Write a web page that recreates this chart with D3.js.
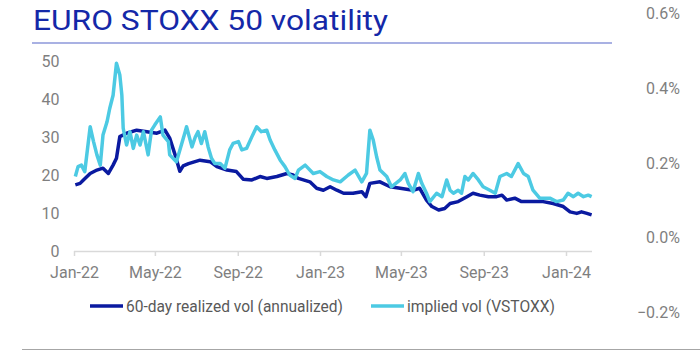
<!DOCTYPE html>
<html>
<head>
<meta charset="utf-8">
<script src="https://cdn.jsdelivr.net/npm/d3@7"></script>
<style>
  body { margin: 0; background: #fff; }
  svg { display: block; font-family: Roboto, "Noto Sans", sans-serif; }
</style>
</head>
<body>
<div id="chart"></div>
<script>
// series values, [date, vol %]
const realized = [
  ['2022-01-03', 17.4], ['2022-01-10', 17.8], ['2022-01-15', 18.7], ['2022-01-25', 20.4],
  ['2022-02-04', 21.3], ['2022-02-13', 21.8], ['2022-02-21', 20.4], ['2022-02-28', 22.6],
  ['2022-03-05', 24.4], ['2022-03-10', 30.1], ['2022-03-20', 31.0], ['2022-04-04', 31.8],
  ['2022-04-19', 31.4], ['2022-05-04', 31.0], ['2022-05-16', 31.8], ['2022-05-23', 29.7],
  ['2022-05-31', 25.3], ['2022-06-07', 21.0], ['2022-06-12', 22.4], ['2022-06-20', 23.0],
  ['2022-07-07', 23.9], ['2022-07-22', 23.5], ['2022-08-01', 22.2], ['2022-08-16', 21.3],
  ['2022-08-30', 20.9], ['2022-09-09', 18.9], ['2022-09-22', 18.7], ['2022-10-04', 19.6],
  ['2022-10-14', 19.1], ['2022-10-29', 19.6], ['2022-11-13', 20.4], ['2022-11-22', 20.0],
  ['2022-11-30', 19.1], ['2022-12-17', 18.2], ['2022-12-27', 16.5], ['2023-01-06', 16.0],
  ['2023-01-16', 16.9], ['2023-01-26', 16.0], ['2023-02-05', 15.2], ['2023-02-19', 15.2],
  ['2023-03-04', 15.6], ['2023-03-10', 14.3], ['2023-03-16', 17.8], ['2023-03-31', 18.2],
  ['2023-04-15', 16.9], ['2023-04-30', 16.5], ['2023-05-19', 16.0], ['2023-05-29', 16.5],
  ['2023-06-08', 13.4], ['2023-06-16', 11.7], ['2023-06-26', 10.8], ['2023-07-05', 11.2],
  ['2023-07-13', 12.5], ['2023-07-25', 13.0], ['2023-08-07', 14.3], ['2023-08-16', 15.2],
  ['2023-08-26', 14.7], ['2023-09-08', 14.3], ['2023-09-20', 14.3], ['2023-09-28', 14.7],
  ['2023-10-05', 13.4], ['2023-10-17', 13.9], ['2023-10-27', 13.0], ['2023-11-13', 13.0],
  ['2023-11-28', 13.0], ['2023-12-13', 12.5], ['2023-12-28', 11.7], ['2024-01-07', 10.3],
  ['2024-01-17', 9.9], ['2024-01-24', 10.3], ['2024-02-01', 9.9], ['2024-02-08', 9.5]
];

const implied = [
  ['2022-01-03', 19.6], ['2022-01-07', 22.2], ['2022-01-12', 22.6], ['2022-01-17', 20.9],
  ['2022-01-25', 32.7], ['2022-01-30', 28.8], ['2022-02-04', 25.3], ['2022-02-09', 22.6],
  ['2022-02-13', 30.5], ['2022-02-19', 34.0], ['2022-02-23', 37.5], ['2022-02-28', 41.0],
  ['2022-03-05', 49.4], ['2022-03-10', 46.3], ['2022-03-13', 41.0], ['2022-03-15', 32.3],
  ['2022-03-20', 27.9], ['2022-03-25', 31.4], ['2022-03-30', 27.0], ['2022-04-04', 30.5],
  ['2022-04-09', 27.9], ['2022-04-14', 31.4], ['2022-04-21', 25.3], ['2022-04-26', 31.8],
  ['2022-05-01', 33.2], ['2022-05-09', 35.3], ['2022-05-13', 30.5], ['2022-05-21', 28.8],
  ['2022-05-23', 25.3], ['2022-06-02', 23.5], ['2022-06-15', 31.4], ['2022-06-17', 32.7],
  ['2022-06-25', 27.4], ['2022-06-30', 30.0], ['2022-07-04', 31.4], ['2022-07-09', 28.3],
  ['2022-07-14', 31.4], ['2022-07-19', 27.4], ['2022-07-24', 24.4], ['2022-07-29', 23.0],
  ['2022-08-06', 23.0], ['2022-08-13', 21.8], ['2022-08-20', 26.6], ['2022-08-25', 28.3],
  ['2022-09-02', 28.8], ['2022-09-07', 26.6], ['2022-09-14', 27.0], ['2022-09-22', 30.1],
  ['2022-09-29', 32.7], ['2022-10-06', 31.4], ['2022-10-14', 31.8], ['2022-10-19', 29.2],
  ['2022-10-26', 26.6], ['2022-11-03', 23.9], ['2022-11-10', 22.2], ['2022-11-17', 20.0],
  ['2022-11-25', 19.1], ['2022-11-30', 21.3], ['2022-12-10', 22.6], ['2022-12-22', 20.4],
  ['2023-01-01', 20.9], ['2023-01-11', 19.6], ['2023-01-21', 18.7], ['2023-01-31', 18.2],
  ['2023-02-12', 20.0], ['2023-02-22', 21.3], ['2023-03-04', 18.2], ['2023-03-11', 20.4],
  ['2023-03-16', 31.8], ['2023-03-21', 29.2], ['2023-03-26', 24.8], ['2023-03-31', 21.3],
  ['2023-04-10', 19.6], ['2023-04-17', 16.9], ['2023-04-30', 18.7], ['2023-05-07', 20.4],
  ['2023-05-12', 17.8], ['2023-05-19', 15.6], ['2023-05-27', 20.4], ['2023-06-01', 17.8],
  ['2023-06-08', 15.2], ['2023-06-13', 13.0], ['2023-06-23', 15.2], ['2023-07-01', 14.3],
  ['2023-07-08', 18.7], ['2023-07-13', 16.0], ['2023-07-18', 15.2], ['2023-07-25', 16.0],
  ['2023-07-30', 15.2], ['2023-08-04', 19.6], ['2023-08-09', 18.7], ['2023-08-16', 20.4],
  ['2023-08-24', 18.7], ['2023-08-31', 16.9], ['2023-09-10', 16.0], ['2023-09-18', 15.2],
  ['2023-09-25', 19.6], ['2023-10-05', 20.4], ['2023-10-12', 19.6], ['2023-10-22', 23.0],
  ['2023-10-30', 20.4], ['2023-11-06', 19.6], ['2023-11-13', 16.0], ['2023-11-23', 13.9],
  ['2023-12-08', 13.9], ['2023-12-18', 13.0], ['2023-12-28', 13.4], ['2024-01-04', 15.2],
  ['2024-01-12', 14.3], ['2024-01-19', 15.2], ['2024-01-27', 14.3], ['2024-02-03', 14.7],
  ['2024-02-08', 14.3]
];

const leftTicks = [0, 10, 20, 30, 40, 50];
const rightTicks = [-0.002, 0, 0.002, 0.004, 0.006];
const seriesNames = ['60-day realized vol (annualized)', 'implied vol (VSTOXX)'];
const seriesColors = ['#0a1aa0', '#4ccae3'];

const width = 700, height = 351;
const parse = d3.timeParse('%Y-%m-%d');

const svg = d3.select('#chart').append('svg')
  .attr('width', width)
  .attr('height', height);

// scales
const x = d3.scaleTime()
  .domain([parse('2022-01-01'), parse('2024-01-01')])
  .range([74, 566]);
const y = d3.scaleLinear().domain([0, 50]).range([251, 61]);
const yRight = d3.scaleLinear().domain([-0.002, 0.006]).range([312.7, 13.3]);

// title + rule under it
svg.append('text')
  .attr('x', 33)
  .attr('y', 30)
  .attr('font-size', 28)
  .attr('fill', '#1428a8')
  .attr('textLength', 355)
  .attr('lengthAdjust', 'spacingAndGlyphs')
  .text('EURO STOXX 50 volatility');

svg.append('line')
  .attr('x1', 32).attr('x2', 612)
  .attr('y1', 43).attr('y2', 43)
  .attr('stroke', '#5465c8')
  .attr('stroke-width', 1.2);

// x axis
const xAxis = svg.append('g')
  .attr('transform', 'translate(0, 251)')
  .call(d3.axisBottom(x)
    .ticks(d3.timeMonth.every(4))
    .tickSize(5)
    .tickFormat(d3.timeFormat('%b-%y')));
xAxis.select('.domain')
  .attr('d', `M74,0.5H592`)
  .attr('stroke', '#d9d9d9')
  .attr('stroke-width', 1.5);
xAxis.selectAll('.tick line').attr('stroke', '#d9d9d9').attr('stroke-width', 1.5);
xAxis.selectAll('.tick text')
  .attr('dy', 0)
  .attr('y', 27)
  .attr('fill', '#7f7f7f')
  .attr('font-size', 16)
  .attr('font-family', 'Roboto, sans-serif');

// left axis, no line
const yAxisG = svg.append('g')
  .attr('transform', 'translate(59.5, 0)')
  .call(d3.axisLeft(y).tickValues(leftTicks).tickSize(0).tickPadding(0));
yAxisG.select('.domain').remove();
yAxisG.selectAll('.tick text')
  .attr('fill', '#7f7f7f')
  .attr('font-size', 16)
  .attr('font-family', 'Roboto, sans-serif');

// right axis
const yRightG = svg.append('g')
  .attr('transform', 'translate(680, 0)')
  .call(d3.axisLeft(yRight).tickValues(rightTicks).tickSize(0).tickPadding(0)
    .tickFormat(d3.format('.1%')));
yRightG.select('.domain').remove();
yRightG.selectAll('.tick text')
  .attr('fill', '#7f7f7f')
  .attr('font-size', 16)
  .attr('font-family', 'Roboto, sans-serif');

// lines
const line = d3.line()
  .x(d => x(parse(d[0])))
  .y(d => y(d[1]));

[realized, implied].forEach((s, i) => {
  svg.append('path')
    .datum(s)
    .attr('fill', 'none')
    .attr('stroke', seriesColors[i])
    .attr('stroke-width', 3.5)
    .attr('stroke-linejoin', 'round')
    .attr('d', line);
});

// legend
const legendX = [90, 371];
const legendTextW = [217, 148];
seriesNames.forEach((name, i) => {
  const g = svg.append('g').attr('transform', `translate(${legendX[i]}, 306)`);
  g.append('line')
    .attr('x1', 0).attr('x2', 33)
    .attr('stroke', seriesColors[i])
    .attr('stroke-width', 3.5);
  g.append('text')
    .attr('x', 36)
    .attr('dy', '0.35em')
    .attr('font-size', 16)
    .attr('fill', '#595959')
    .attr('textLength', legendTextW[i])
    .attr('lengthAdjust', 'spacingAndGlyphs')
    .text(name);
});

// bottom rule
svg.append('line')
  .attr('x1', 22).attr('x2', 700)
  .attr('y1', 349.5).attr('y2', 349.5)
  .attr('stroke', '#a6a6a6')
  .attr('stroke-width', 1);
</script>
</body>
</html>
